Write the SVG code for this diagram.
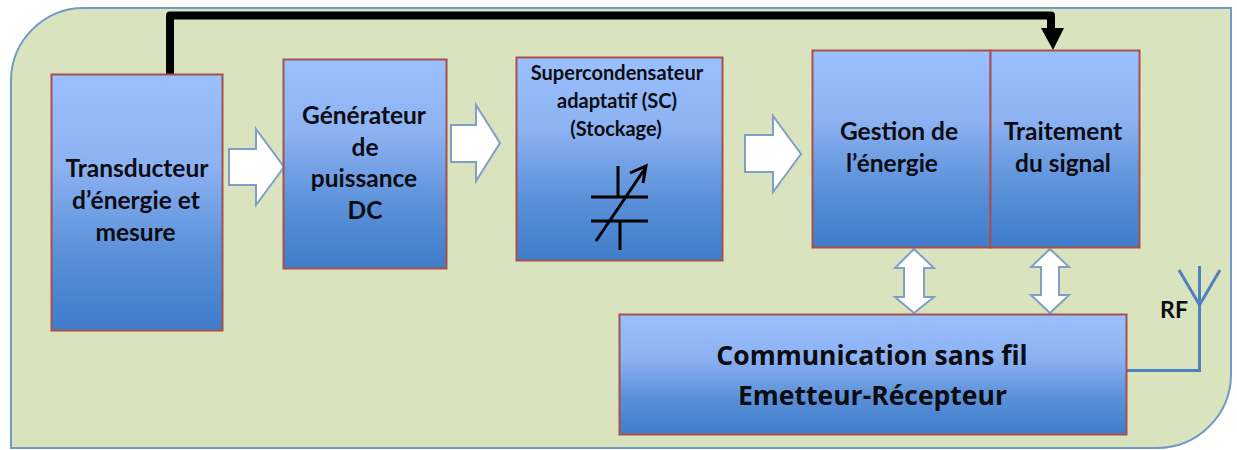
<svg xmlns="http://www.w3.org/2000/svg" width="1237" height="450" viewBox="0 0 1237 450">
<style>
.box{fill:url(#g);stroke:#a5504e;stroke-width:2}
.t{font-family:Lato,"Liberation Sans",sans-serif;font-weight:700;font-size:24.500px;fill:#0c0c12;text-anchor:middle}
.s{font-size:20px}
.c{font-family:"Open Sans","Liberation Sans",sans-serif;font-size:26.500px}
.a{fill:#fff;stroke:#7f9fc6;stroke-width:2;stroke-linejoin:miter}
.k{fill:none;stroke:#000;stroke-width:3}
.r{fill:none;stroke:#4f81bd;stroke-width:3}
</style>
<defs>
<linearGradient id="g" x1="0" y1="0" x2="0" y2="1">
<stop offset="0" stop-color="#9bc0ff"/><stop offset="0.35" stop-color="#8db2f2"/><stop offset="0.7" stop-color="#5a90d8"/><stop offset="1" stop-color="#3f7cca"/>
</linearGradient>
</defs>
<path id="panel" d="M84 8H1231V374A74 74 0 0 1 1157 448H11V81A73 73 0 0 1 84 8Z" fill="#d9e3bd" stroke="#6f9bc4" stroke-width="2"/>
<g id="connectors">
<path d="M170 74V15.500H1051V30" fill="none" stroke="#000" stroke-width="8" stroke-linejoin="round"/>
<path d="M1041 28H1064L1053 50Z" fill="#000"/>
<path class="a" d="M229 149H256V129L284 167L256 205V185H229Z"/>
<path class="a" d="M451 125H476V105L500 143L476 181V162H451Z"/>
<path class="a" d="M745 135H773V116L801 154L773 192V172H745Z"/>
<path class="a" d="M914 249L934 268H924V297H934L914 313L895 297H904V268H895Z"/>
<path class="a" d="M1050 249L1069 267H1059V295H1069L1050 313L1031 295H1041V267H1031Z"/>
<path class="r" d="M1125 370.500H1199.500V266M1199.500 305L1179 270M1199.500 305L1220 270"/>
</g>
<g id="transducteur"><rect class="box" x="51.500" y="74.500" width="171" height="256"/>
<text class="t" x="137" y="177">Transducteur</text><text class="t" x="136" y="209">d’énergie et</text><text class="t" x="135.500" y="241">mesure</text></g>
<g id="generateur"><rect class="box" x="283.500" y="59.500" width="163" height="209"/>
<text class="t" x="364" y="124">Générateur</text><text class="t" x="365" y="156">de</text><text class="t" x="364" y="187">puissance</text><text class="t" x="365" y="219">DC</text></g>
<g id="supercondensateur"><rect class="box" x="516.500" y="57.500" width="206" height="203"/>
<text class="t s" x="617" y="80">Supercondensateur</text><text class="t s" x="617" y="108">adaptatif  (SC)</text><text class="t s" x="616" y="136">(Stockage)</text>
<path class="k" d="M618 166V197M620 221V250M591 197H648M591 221H648M596 241L646 167M630 173L646 166L643 183"/></g>
<g id="gestion"><rect class="box" x="812.500" y="50.500" width="178" height="197"/>
<text class="t" x="899" y="140">Gestion de</text><text class="t" x="892" y="172">l’énergie</text></g>
<g id="traitement"><rect class="box" x="990.500" y="50.500" width="149" height="197"/>
<text class="t" x="1063" y="140">Traitement</text><text class="t" x="1063" y="172">du signal</text></g>
<g id="communication"><rect class="box" x="619.500" y="314.500" width="507" height="120"/>
<text class="t c" x="872" y="365">Communication sans fil</text><text class="t c" x="872.500" y="405">Emetteur-Récepteur</text></g>
<text class="t" x="1174" y="318" style="font-size:23px">RF</text>
</svg>
